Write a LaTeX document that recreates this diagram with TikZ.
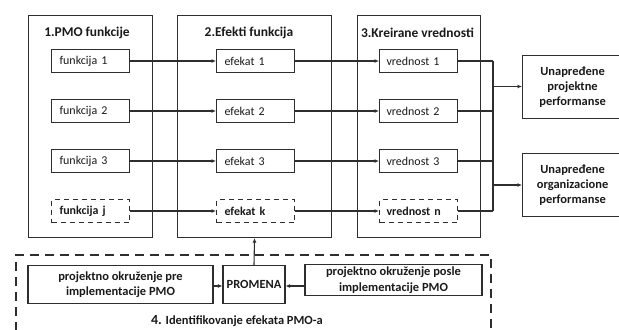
\documentclass[tikz,border=0pt]{standalone}
\usepackage{fontspec}
\setmainfont{Carlito}
\usetikzlibrary{arrows.meta}
\definecolor{ln}{HTML}{2E2E2E}
\definecolor{tx}{HTML}{1A1A1A}
\tikzset{
  frame/.style={draw=ln, line width=1.1bp},
  item/.style={draw=ln, line width=1.1bp, minimum height=23bp, text width=62bp, align=left, inner xsep=8bp, inner ysep=0pt, font=\fontsize{12}{14}\selectfont, text=tx, anchor=west},
  dashitem/.style={item, dash pattern=on 5bp off 4bp, font=\bfseries\fontsize{12}{14}\selectfont},
  head/.style={font=\bfseries\fontsize{13.5}{15}\selectfont, text=tx, inner sep=0pt},
  result/.style={draw=ln, line width=1.1bp, minimum width=100bp, minimum height=63bp, align=center, font=\bfseries\fontsize{12.5}{15.5}\selectfont, text=tx, anchor=north west, inner sep=0pt},
  envbox/.style={draw=ln, line width=1.1bp, align=center, font=\bfseries\fontsize{12.5}{15.5}\selectfont, text=tx, inner sep=0pt},
  conn/.style={draw=ln, line width=1.1bp, -{Latex[length=4.5bp,width=4bp]}},
  plain/.style={draw=ln, line width=1.1bp},
  outerdash/.style={draw=ln, line width=1.1bp, dash pattern=on 9bp off 6bp}
}
\begin{document}
\begin{tikzpicture}[x=1bp,y=-1bp]
\useasboundingbox (0,0) rectangle (619,329);
\fill[white] (0,0) rectangle (619,329);
% column frames
\node[frame, minimum width=124bp, minimum height=222bp, anchor=north west, inner sep=0pt] (c1) at (28,15) {};
\node[frame, minimum width=154bp, minimum height=222bp, anchor=north west, inner sep=0pt] (c2) at (177,15) {};
\node[frame, minimum width=123bp, minimum height=222bp, anchor=north west, inner sep=0pt] (c3) at (357,15) {};
\node[head] (h1) at (87,33) {1.PMO funkcije};
\node[head] (h2) at (249,33) {2.Efekti funkcija};
\node[head] (h3) at (417.5,33) {3.Kreirane vrednosti};
% items
\node[item] (f1) at (51,61) {funkcija 1};
\node[item] (f2) at (51,111) {funkcija 2};
\node[item] (f3) at (51,161) {funkcija 3};
\node[dashitem] (f4) at (51,211) {funkcija j};
\node[item] (e1) at (216,61) {efekat 1};
\node[item] (e2) at (216,111) {efekat 2};
\node[item] (e3) at (216,161) {efekat 3};
\node[dashitem] (e4) at (216,211) {efekat k};
\node[item, text width=64bp, inner xsep=7bp] (v1) at (379,61) {vrednost 1};
\node[item, text width=64bp, inner xsep=7bp] (v2) at (379,111) {vrednost 2};
\node[item, text width=64bp, inner xsep=7bp] (v3) at (379,161) {vrednost 3};
\node[dashitem, text width=64bp, inner xsep=7bp] (v4) at (379,211) {vrednost n};
\foreach \i in {1,2,3,4}{
  \draw[conn] (f\i.east) -- (e\i.west);
  \draw[conn] (e\i.east) -- (v\i.west);
}
% bus
\coordinate (b1) at (493,61);
\coordinate (b4) at (493,211);
\coordinate (bp) at (493,86.5);
\coordinate (bo) at (493,185);
\foreach \i in {1,2,3}{\draw[plain] (v\i.east) -- (493,61+50*\i-50);}
\draw[plain] (v4.east) -- (b4);
\draw[plain] (b1) -- (b4);
\node[result] (r1) at (522,55) {Unapređene\\projektne\\performanse};
\node[result] (r2) at (522,153) {Unapređene\\organizacione\\performanse};
\draw[conn] (bp) -- (bp -| r1.west);
\draw[conn] (bo) -- (bo -| r2.west);
% bottom section
\draw[outerdash] (16,331) -- (16,255) -- (491,255) -- (491,331);
\node[envbox, minimum width=185bp, minimum height=38bp] (pre) at (120.5,284.5) {projektno okruženje pre\\implementacije PMO};
\node[envbox, minimum width=62bp, minimum height=38bp] (pr) at (254,284.5) {PROMENA};
\node[envbox, minimum width=177bp, minimum height=31bp] (post) at (393.5,280) {projektno okruženje posle\\implementacije PMO};
\draw[conn] (pre.east |- 0,286) -- (pr.west |- 0,286);
\draw[conn] (post.west |- 0,286) -- (pr.east |- 0,286);
\draw[conn] (pr.north) -- (c2.south);
\node[head, font=\bfseries\fontsize{12.5}{15}\selectfont] (cap) at (237,321) {{\fontsize{14}{15}\selectfont 4.} Identifikovanje efekata PMO-a};
\end{tikzpicture}
\end{document}
